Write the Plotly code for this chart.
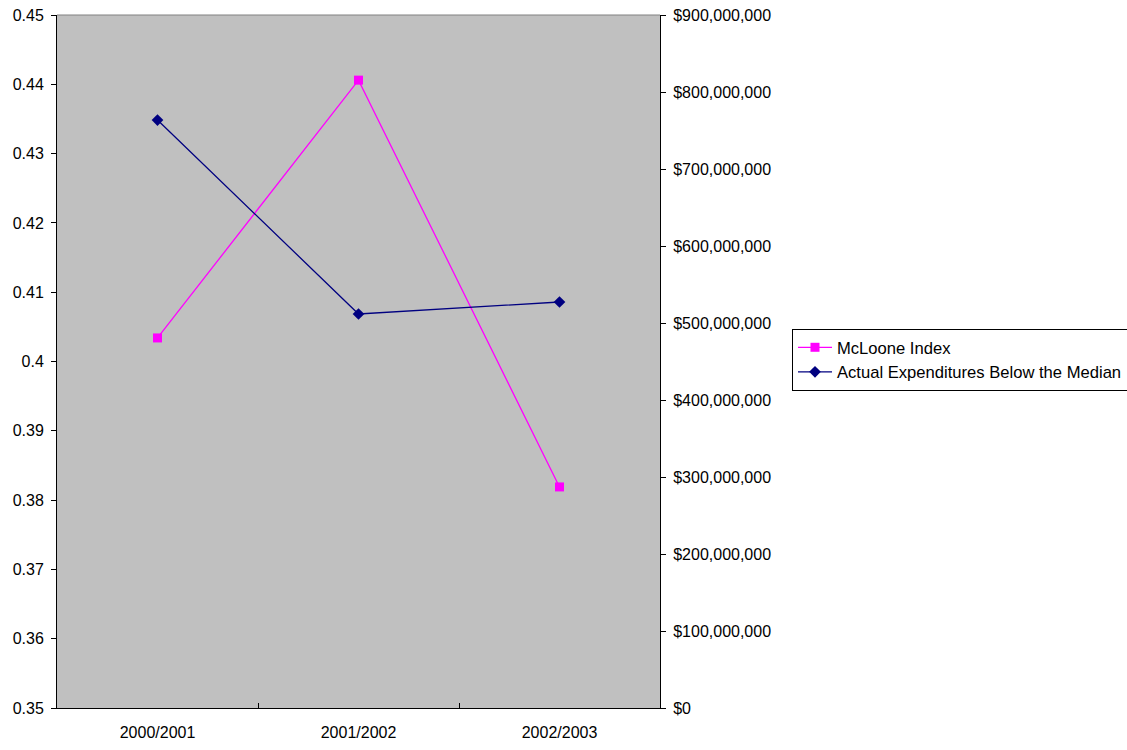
import plotly.graph_objects as go

years = ["2000/2001", "2001/2002", "2002/2003"]
mcloone_index = [0.4034, 0.4406, 0.3819]
expenditures_below_median = [763600000, 511700000, 527300000]

left_tickvals = [0.35, 0.36, 0.37, 0.38, 0.39, 0.40, 0.41, 0.42, 0.43, 0.44, 0.45]
left_ticktext = ["0.35", "0.36", "0.37", "0.38", "0.39", "0.4", "0.41", "0.42", "0.43", "0.44", "0.45"]

FONT = "Liberation Sans, Arial, sans-serif"

fig = go.Figure()
fig.add_trace(go.Scatter(
    x=years, y=mcloone_index, name="McLoone Index", mode="lines+markers",
    line=dict(color="#FF00FF", width=1.3),
    marker=dict(symbol="square", size=9, color="#FF00FF"),
    yaxis="y"))
fig.add_trace(go.Scatter(
    x=years, y=expenditures_below_median, name="Actual Expenditures Below the Median",
    mode="lines+markers",
    line=dict(color="#000080", width=1.3),
    marker=dict(symbol="diamond", size=9, color="#000080"),
    yaxis="y2"))

fig.update_layout(
    width=1127, height=750,
    margin=dict(l=57, r=467, t=15, b=42, autoexpand=False),
    paper_bgcolor="white", plot_bgcolor="#C0C0C0",
    font=dict(family=FONT, size=16, color="black"),
    showlegend=True,
    legend=dict(x=(792 - 57) / 603, y=(708 - 360) / 693, xanchor="left", yanchor="middle",
                bordercolor="black", borderwidth=1, bgcolor="white",
                font=dict(family=FONT, size=16.6, color="black"),
                tracegroupgap=0, itemwidth=34),
    xaxis=dict(type="category", range=[-0.5, 2.5], showgrid=False, zeroline=False,
               showline=True, linecolor="black", linewidth=1,
               ticks="inside", tickson="boundaries", ticklen=5, tickcolor="black",
               ticklabelstandoff=10, fixedrange=True),
    yaxis=dict(range=[0.35, 0.45], tickvals=left_tickvals, ticktext=left_ticktext,
               showgrid=False, zeroline=False, showline=True, linecolor="black", linewidth=1,
               ticks="outside", ticklen=5, tickcolor="black", ticklabelstandoff=4),
    yaxis2=dict(range=[0, 900000000], dtick=100000000, tickformat="$,.0f", overlaying="y",
                side="right", showgrid=False, zeroline=False, showline=True,
                linecolor="black", linewidth=1, ticks="outside", ticklen=5,
                tickcolor="black", ticklabelstandoff=4),
    shapes=[dict(type="line", xref="paper", yref="paper", x0=0, x1=1, y0=1, y1=1,
                 line=dict(color="#808080", width=1))],
)

fig.write_html("out.html")
